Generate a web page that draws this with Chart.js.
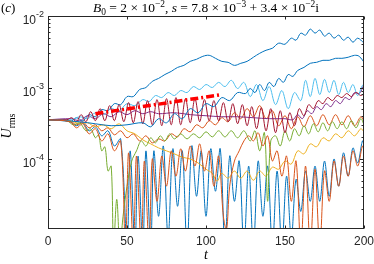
<!DOCTYPE html>
<html>
<head>
<meta charset="utf-8">
<script src="https://cdn.jsdelivr.net/npm/chart.js@4.4.0/dist/chart.umd.min.js"></script>
<style>
  html, body { margin: 0; padding: 0; background: #fff; }
  #wrap { width: 374px; height: 264px; }
</style>
</head>
<body>
<div id="wrap"><canvas id="chart" width="374" height="264"></canvas></div>
<script>
// time ticks and decades shown on the axes
const tTicks = [0, 50, 100, 150, 200];
const uDecades = [1e-2, 1e-3, 1e-4];

// each run: [t, U_rms]
const blueTop = [[0,3.54e-4],[10,3.54e-4],[14,3.32e-4],[18,3.78e-4],[22,3.43e-4],[26,4.17e-4],[30,3.90e-4],[34,4.90e-4],[38,4.74e-4],[42,5.95e-4],[46,5.76e-4],[50,7.47e-4],[54,7.47e-4],[58,9.37e-4],[62,1.0e-3],[66,1.22e-3],[70,1.34e-3],[74,1.52e-3],[78,1.68e-3],[82,1.91e-3],[86,2.04e-3],[90,2.32e-3],[94,2.48e-3],[98,2.73e-3],[102,2.82e-3],[106,2.56e-3],[110,2.32e-3],[114,2.25e-3],[118,2.04e-3],[122,2.18e-3],[126,2.32e-3],[130,2.65e-3],[134,3.01e-3],[138,3.32e-3],[142,3.54e-3],[146,4.17e-3],[150,4.03e-3],[154,4.90e-3],[157,4.59e-3],[160,5.76e-3],[163,5.40e-3],[166,6.56e-3],[169,5.76e-3],[172,6.35e-3],[175,5.23e-3],[178,5.76e-3],[181,4.90e-3],[184,5.40e-3],[187,4.59e-3],[190,5.06e-3],[193,4.30e-3],[196,4.90e-3],[200,4.17e-3]];
const orangeA = [[0,3.54e-4],[14,3.43e-4],[18,3.01e-4],[22,3.32e-4],[26,2.73e-4],[30,3.01e-4],[34,2.48e-4],[38,2.73e-4],[42,2.18e-4],[46,2.48e-4],[50,1.98e-4],[54,2.25e-4],[58,1.79e-4],[62,2.11e-4],[66,1.68e-4],[70,1.91e-4],[74,1.79e-4],[78,2.25e-4],[82,2.04e-4],[86,2.65e-4],[90,2.40e-4],[94,3.01e-4],[98,2.73e-4],[102,3.43e-4],[106,3.01e-4],[110,3.78e-4],[114,3.32e-4],[118,4.44e-4],[122,3.66e-4],[126,5.06e-4],[130,3.90e-4],[134,5.58e-4],[138,3.66e-4],[142,4.74e-4],[146,2.92e-4],[150,4.03e-4],[154,2.65e-4],[158,3.90e-4],[162,2.82e-4],[166,4.03e-4],[170,2.92e-4],[174,4.17e-4],[178,3.01e-4],[182,4.17e-4],[186,3.01e-4],[190,4.03e-4],[194,2.92e-4],[198,3.90e-4],[200,3.43e-4]];
const yellowA = [[0,3.54e-4],[12,3.43e-4],[16,3.32e-4],[20,3.11e-4],[25,3.21e-4],[30,2.82e-4],[35,3.01e-4],[40,2.65e-4],[45,3.11e-4],[50,2.48e-4],[55,2.25e-4],[60,1.85e-4],[65,1.63e-4],[70,1.43e-4],[75,1.30e-4],[80,1.18e-4],[85,1.06e-4],[90,1.0e-4],[95,8.8e-5],[100,7.2e-5],[104,6.3e-5],[107,4.9e-5],[110,6.3e-5],[114,5.4e-5],[118,6.78e-5],[122,5.4e-5],[126,6.78e-5],[130,5.05e-5],[134,6.78e-5],[138,5.76e-5],[142,7.7e-5],[146,7.2e-5],[150,9.37e-5],[154,8.5e-5],[158,1.30e-4],[162,1.18e-4],[166,1.63e-4],[170,1.48e-4],[174,1.98e-4],[178,1.79e-4],[182,2.25e-4],[186,1.98e-4],[190,2.48e-4],[194,2.11e-4],[198,2.65e-4],[200,2.40e-4]];
const purple = [[0,3.54e-4],[15,3.66e-4],[20,3.43e-4],[25,4.03e-4],[30,3.66e-4],[35,4.30e-4],[40,3.90e-4],[45,4.59e-4],[50,4.17e-4],[55,4.74e-4],[60,4.30e-4],[65,4.59e-4],[70,4.30e-4],[80,4.44e-4],[90,4.17e-4],[100,4.03e-4],[110,3.90e-4],[120,3.90e-4],[130,3.78e-4],[140,3.66e-4],[150,3.66e-4],[155,3.54e-4],[158,4.17e-4],[161,3.66e-4],[164,4.74e-4],[167,4.30e-4],[170,5.40e-4],[173,4.90e-4],[176,5.95e-4],[179,5.40e-4],[182,6.56e-4],[185,5.95e-4],[188,7.23e-4],[191,6.78e-4],[194,8.50e-4],[197,8.23e-4],[200,1.10e-3]];
const green = [[0,3.54e-4],[12,3.43e-4],[16,3.01e-4],[20,3.21e-4],[24,2.48e-4],[27,2.65e-4],[30,1.98e-4],[32,2.18e-4],[34,1.30e-4],[36,1.48e-4],[38,6.78e-5],[40,7.97e-5],[41.5,6e-6],[43.5,2.73e-5],[45.5,6e-6],[47.5,1.58e-5],[50,4.17e-5],[53,9.37e-5],[56,1.30e-4],[59,1.79e-4],[62,1.52e-4],[65,1.98e-4],[68,1.68e-4],[71,2.11e-4],[74,1.79e-4],[77,2.25e-4],[80,1.91e-4],[84,2.25e-4],[88,1.91e-4],[92,2.25e-4],[96,1.98e-4],[100,2.40e-4],[104,2.04e-4],[108,2.48e-4],[112,2.04e-4],[116,2.48e-4],[120,1.98e-4],[124,2.48e-4],[128,1.79e-4],[131,2.48e-4],[134,1.30e-4],[137,2.33e-4],[139,2.56e-5],[141,1.79e-4],[144,2.11e-4],[147,1.52e-4],[150,2.48e-4],[153,1.79e-4],[156,2.65e-4],[159,2.11e-4],[162,2.92e-4],[165,2.25e-4],[168,3.11e-4],[171,2.40e-4],[174,3.21e-4],[177,2.48e-4],[180,3.32e-4],[183,2.65e-4],[186,3.32e-4],[189,2.65e-4],[192,3.43e-4],[195,2.73e-4],[198,3.66e-4],[200,3.01e-4]];
const lightBlue = [[0,3.54e-4],[15,3.54e-4],[20,3.90e-4],[25,3.66e-4],[30,4.44e-4],[35,4.17e-4],[40,5.06e-4],[45,4.74e-4],[50,5.95e-4],[55,5.58e-4],[60,6.78e-4],[64,6.35e-4],[68,7.72e-4],[72,7.23e-4],[76,8.50e-4],[80,7.72e-4],[84,9.07e-4],[88,8.50e-4],[92,1.03e-3],[96,9.37e-4],[100,1.10e-3],[104,1.0e-3],[108,1.18e-3],[112,1.03e-3],[116,1.26e-3],[120,9.68e-4],[124,1.18e-3],[128,7.47e-4],[132,1.10e-3],[136,6.56e-4],[140,1.03e-3],[144,5.76e-4],[148,9.07e-4],[152,5.06e-4],[156,8.50e-4],[160,6.56e-4],[163,1.26e-3],[166,7.47e-4],[169,1.34e-3],[172,7.97e-4],[175,1.30e-3],[178,8.50e-4],[181,1.26e-3],[184,7.97e-4],[187,1.18e-3],[190,8.50e-4],[193,1.10e-3],[196,7.72e-4],[199,1.07e-3],[200,1.0e-3]];
const darkRed = [[0,3.54e-4],[12,3.54e-4],[15,3.78e-4],[18,3.32e-4],[21,4.17e-4],[24,3.32e-4],[27,4.59e-4],[30,3.43e-4],[33,5.06e-4],[36,3.43e-4],[39,5.58e-4],[42,3.43e-4],[45,5.76e-4],[48,3.32e-4],[51,6.15e-4],[54,3.21e-4],[57,6.35e-4],[60,3.11e-4],[63,6.56e-4],[66,3.01e-4],[69,6.78e-4],[72,2.92e-4],[75,7.00e-4],[78,3.01e-4],[81,7.23e-4],[84,3.01e-4],[87,7.00e-4],[90,3.21e-4],[93,7.00e-4],[96,3.32e-4],[99,6.78e-4],[102,3.43e-4],[105,6.56e-4],[108,3.43e-4],[111,6.15e-4],[114,3.32e-4],[117,5.95e-4],[120,3.11e-4],[123,5.76e-4],[126,2.92e-4],[129,5.40e-4],[132,2.65e-4],[135,5.23e-4],[138,2.48e-4],[141,5.06e-4],[144,2.33e-4],[147,4.74e-4],[150,2.33e-4],[153,4.44e-4],[156,2.92e-4],[159,5.06e-4],[162,4.03e-4],[165,5.76e-4],[168,5.06e-4],[171,6.56e-4],[174,5.95e-4],[177,7.23e-4],[180,6.56e-4],[183,7.72e-4],[186,7.23e-4],[189,8.23e-4],[192,7.47e-4],[195,8.50e-4],[198,7.72e-4],[200,8.23e-4]];
const blueB = [[0,3.54e-4],[20,3.32e-4],[30,3.11e-4],[40,2.92e-4],[50,3.01e-4],[60,3.21e-4],[65,2.82e-4],[70,3.66e-4],[75,3.21e-4],[80,4.30e-4],[85,3.66e-4],[90,5.06e-4],[95,4.44e-4],[100,5.95e-4],[105,5.40e-4],[110,7.23e-4],[115,6.56e-4],[120,8.50e-4],[125,8.23e-4],[128,9.68e-4],[131,8.50e-4],[134,1.10e-3],[137,9.07e-4],[140,1.18e-3],[143,1.03e-3],[146,1.34e-3],[149,1.18e-3],[152,1.52e-3],[155,1.43e-3],[158,1.73e-3],[162,1.91e-3],[166,2.18e-3],[170,2.25e-3],[174,2.40e-3],[178,2.40e-3],[182,2.56e-3],[186,2.56e-3],[190,2.65e-3],[194,2.82e-3],[197,2.73e-3],[200,2.25e-3]];
const orangeB = [[0,3.54e-4],[14,3.32e-4],[18,2.73e-4],[22,3.11e-4],[26,2.25e-4],[30,2.65e-4],[34,1.79e-4],[38,2.25e-4],[42,1.30e-4],[46,1.79e-4],[49,6e-6],[51,1.22e-4],[54,6e-6],[56,1.10e-4],[59,6e-6],[61,9.37e-5],[64,6e-6],[66,1.0e-4],[69,2.56e-5],[72,1.10e-4],[75,4.17e-5],[78,1.30e-4],[81,5.76e-5],[84,1.39e-4],[87,6.78e-5],[90,1.52e-4],[93,7.97e-5],[96,1.63e-4],[99,6.78e-5],[102,1.30e-4],[105,4.17e-5],[108,1.10e-4],[111,1.58e-5],[113,1.03e-5],[115,4.17e-5],[118,9.37e-5],[121,1.30e-4],[124,1.79e-4],[127,2.11e-4],[130,1.79e-4],[133,2.33e-4],[136,1.52e-4],[139,2.11e-4],[142,9.37e-5],[145,1.30e-4],[148,5.76e-5],[151,1.10e-4],[154,2.56e-5],[157,9.37e-5],[160,6e-6],[163,7.97e-5],[166,6e-6],[169,7.2e-5],[172,6e-6],[175,6.78e-5],[178,2.56e-5],[181,9.37e-5],[184,4.17e-5],[187,1.10e-4],[190,5.76e-5],[193,1.30e-4],[196,7.97e-5],[199,1.52e-4],[200,1.39e-4]];
const blueD = [[0,3.54e-4],[14,3.32e-4],[18,2.92e-4],[22,3.21e-4],[26,2.48e-4],[30,2.82e-4],[34,2.11e-4],[38,2.48e-4],[42,1.52e-4],[46,1.91e-4],[50,6e-6],[52,1.30e-4],[55,6e-6],[57,1.10e-4],[60,6e-6],[62,1.30e-4],[65,6e-6],[67,1.30e-4],[70,1.58e-5],[73,1.52e-4],[76,8e-6],[79,1.39e-4],[82,2.18e-5],[85,1.30e-4],[88,6e-6],[91,1.52e-4],[94,3.01e-5],[97,1.30e-4],[100,1.58e-5],[103,1.39e-4],[106,3.54e-5],[109,1.39e-4],[112,6e-6],[115,1.10e-4],[118,2.56e-5],[121,9.37e-5],[124,6e-6],[127,7.97e-5],[130,6e-6],[133,9.37e-5],[136,1.58e-5],[139,7.97e-5],[142,6e-6],[145,6.78e-5],[148,6e-6],[151,5.76e-5],[154,8e-6],[157,5.2e-5],[160,1.85e-5],[163,6.78e-5],[166,2.56e-5],[169,7.97e-5],[172,2.56e-5],[175,9.37e-5],[178,3.01e-5],[181,1.0e-4],[184,4.17e-5],[187,1.22e-4],[190,5.76e-5],[193,1.43e-4],[196,8.8e-5],[199,1.79e-4],[200,1.68e-4]];
// growth-rate guide (dash-dot)
const growthFit = [[30,4.3e-4],[109,7.9e-4]];

const colors = {
  blue: '#0072BD', orange: '#D95319', yellow: '#EDB120', purple: '#7E2F8E',
  green: '#77AC30', lightBlue: '#4DBEEE', darkRed: '#A2142F'
};

// plotting order as in the figure (last one on top)
const runs = [
  [blueD, colors.blue], [blueTop, colors.blue], [orangeA, colors.orange], [yellowA, colors.yellow],
  [purple, colors.purple], [green, colors.green], [lightBlue, colors.lightBlue], [darkRed, colors.darkRed],
  [blueB, colors.blue], [orangeB, colors.orange]
];

const toXY = pts => pts.map(p => ({ x: p[0], y: p[1] }));

const datasets = runs.map(r => ({
  data: toXY(r[0]),
  borderColor: r[1],
  borderWidth: 1,
  pointRadius: 0,
  tension: 0.35,
  fill: false
}));
datasets.push({
  data: toXY(growthFit),
  borderColor: '#ff0000',
  borderWidth: 3.5,
  borderDash: [8, 3, 2, 3],
  pointRadius: 0,
  tension: 0,
  fill: false
});
datasets.reverse(); // chart.js draws index 0 last

const ink = '#262626';
const sansFont = '"Liberation Sans", Arial, sans-serif';
const serifFont = '"Liberation Serif", "Times New Roman", serif';

// draw a run of text pieces: {t, it, sub, sup}
function richText(ctx, parts, x, y, size, align) {
  const fontOf = p => (p.it ? 'italic ' : '') + ((p.sub || p.sup) ? size * 0.7 : size) + 'px ' + serifFont;
  let total = 0;
  parts.forEach(p => { ctx.font = fontOf(p); p.w = ctx.measureText(p.t).width; total += p.w; });
  let cx = align === 'center' ? x - total / 2 : x;
  ctx.textAlign = 'left';
  ctx.textBaseline = 'alphabetic';
  parts.forEach(p => {
    ctx.font = fontOf(p);
    const dy = p.sub ? size * 0.25 : (p.sup ? -size * 0.4 : 0);
    ctx.fillText(p.t, cx, y + dy);
    cx += p.w;
  });
}

const axesBox = {
  id: 'axesBox',
  afterDatasetsDraw(chart) {
    const { ctx, chartArea: a, scales: { x, y } } = chart;
    ctx.save();
    ctx.strokeStyle = ink;
    ctx.fillStyle = ink;
    ctx.lineWidth = 1;
    const L = Math.round(a.left) + 0.5, R = Math.round(a.right) - 0.5;
    const T = Math.round(a.top) + 0.5, B = Math.round(a.bottom) - 0.5;
    ctx.strokeRect(L, T, R - L, B - T);

    ctx.beginPath();
    tTicks.forEach(t => {
      const px = Math.round(x.getPixelForValue(t)) + 0.5;
      ctx.moveTo(px, B); ctx.lineTo(px, B - 3);
      ctx.moveTo(px, T); ctx.lineTo(px, T + 3);
    });
    // decades and minor ticks
    for (let e = -5; e <= -2; e++) {
      for (let m = 1; m <= 9; m++) {
        const v = m * Math.pow(10, e);
        if (v < y.min || v > y.max) continue;
        const py = Math.round(y.getPixelForValue(v)) + 0.5;
        const len = m === 1 ? 3.5 : 2;
        ctx.moveTo(L, py); ctx.lineTo(L + len, py);
        ctx.moveTo(R, py); ctx.lineTo(R - len, py);
      }
    }
    ctx.stroke();

    ctx.font = '12px ' + sansFont;
    ctx.textAlign = 'center';
    ctx.textBaseline = 'top';
    tTicks.forEach(t => ctx.fillText(String(t), x.getPixelForValue(t), a.bottom + 7));

    uDecades.forEach(v => {
      const py = y.getPixelForValue(v);
      const ex = String(Math.round(Math.log10(v)));
      ctx.font = '9px ' + sansFont;
      const ew = ctx.measureText(ex).width;
      ctx.font = '12px ' + sansFont;
      const bw = ctx.measureText('10').width;
      const right = a.left - 4;
      ctx.textAlign = 'left';
      ctx.textBaseline = 'alphabetic';
      ctx.fillText('10', right - ew - bw, py + 8);
      ctx.font = '9px ' + sansFont;
      ctx.fillText(ex, right - ew, py + 1);
    });

    ctx.fillStyle = '#000';
    richText(ctx, [{ t: '(' }, { t: 'c', it: true }, { t: ')' }], 1, 12, 13, 'left');
    richText(ctx, [
      { t: 'B', it: true }, { t: '0', sub: true }, { t: ' = 2 × 10' }, { t: '−2', sup: true },
      { t: ', ' }, { t: 's', it: true }, { t: ' = 7.8 × 10' }, { t: '−3', sup: true },
      { t: ' + 3.4 × 10' }, { t: '−2', sup: true }, { t: 'i' }
    ], (a.left + a.right) / 2, 12, 13.5, 'center');
    richText(ctx, [{ t: 't', it: true }], (a.left + a.right) / 2, 259, 14, 'center');

    ctx.translate(11, 126);
    ctx.rotate(-Math.PI / 2);
    richText(ctx, [{ t: 'U', it: true }, { t: 'rms', sub: true }], 0, 0, 14, 'center');
    ctx.restore();
  }
};

new Chart(document.getElementById('chart'), {
  type: 'line',
  data: { datasets: datasets },
  options: {
    responsive: false,
    devicePixelRatio: 1,
    animation: false,
    layout: { padding: { left: 48, right: 10, top: 16, bottom: 35 } },
    plugins: { legend: { display: false }, tooltip: { enabled: false } },
    scales: {
      x: { type: 'linear', min: 0, max: 200, display: false },
      y: { type: 'logarithmic', min: 1.05e-5, max: 1e-2, display: false }
    }
  },
  plugins: [axesBox]
});
</script>
</body>
</html>
